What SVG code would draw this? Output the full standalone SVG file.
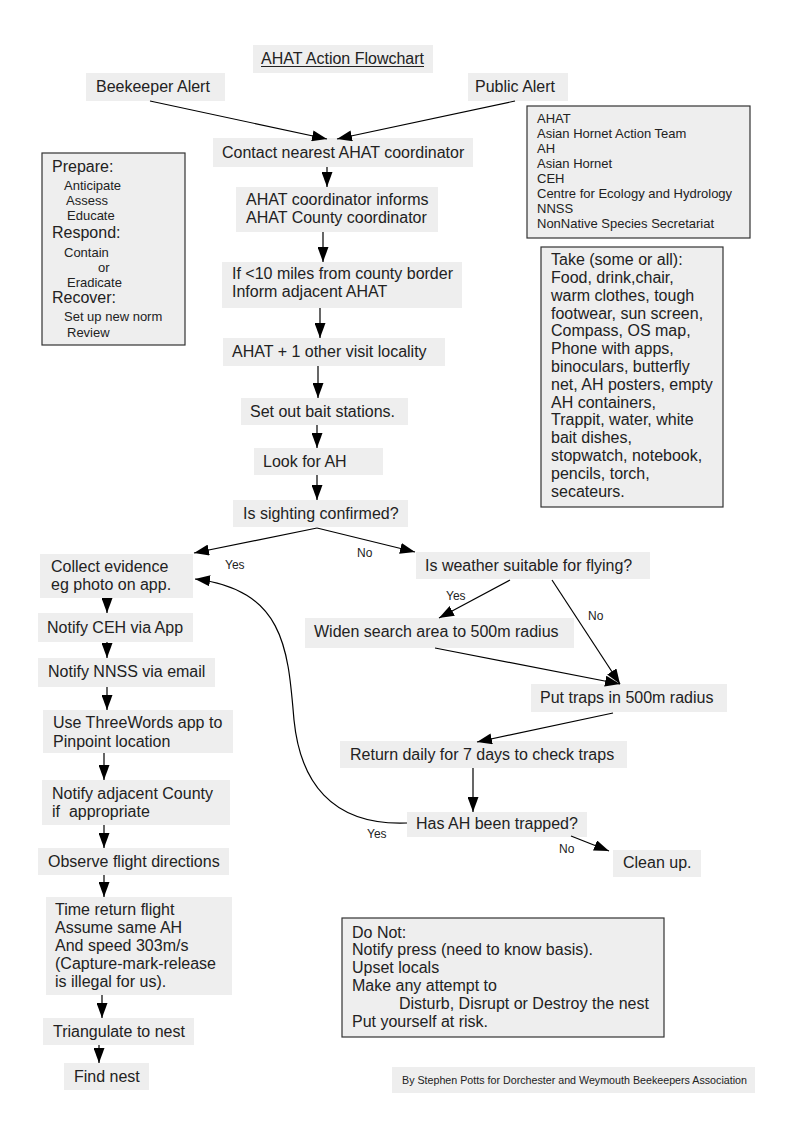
<svg xmlns="http://www.w3.org/2000/svg" width="794" height="1123" viewBox="0 0 794 1123">
<defs>
<marker id="ah" markerUnits="userSpaceOnUse" markerWidth="15" markerHeight="11" refX="15" refY="5.5" orient="auto">
<path d="M0,0 L15,5.5 L0,11 z" fill="#000"/>
</marker>
</defs>
<style>
text{font-family:"Liberation Sans",Arial,sans-serif;fill:#222;}
.t{font-size:16px;}
.s{font-size:13px;}
.h{font-size:16px;}
.l{font-size:12px;}
.f{font-size:10.7px;}
.bx{fill:#eeeeee;}
.bb{fill:#eeeeee;stroke:#333;stroke-width:1.2;}
.c{fill:none;stroke:#000;stroke-width:1.2;marker-end:url(#ah);}
</style>
<rect width="794" height="1123" fill="#fff"/>

<g id="title"><rect class="bx" x="253" y="45" width="180" height="28"/><text class="t" x="261" y="64">AHAT Action Flowchart</text><line x1="261" y1="66.5" x2="424" y2="66.5" stroke="#222" stroke-width="1"/></g>
<g id="beekeeper"><rect class="bx" x="86" y="73" width="139" height="28"/><text class="t" x="96" y="92">Beekeeper Alert</text></g>
<g id="public"><rect class="bx" x="468" y="73" width="100" height="28"/><text class="t" x="475" y="92">Public Alert</text></g>
<g id="contact"><rect class="bx" x="213" y="138" width="260" height="29"/><text class="t" x="222" y="158">Contact nearest AHAT coordinator</text></g>

<g id="glossary"><rect class="bb" x="527" y="106" width="223" height="132"/>
<text class="s" x="537" y="123">AHAT</text>
<text class="s" x="537" y="138">Asian Hornet Action Team</text>
<text class="s" x="537" y="153">AH</text>
<text class="s" x="537" y="168">Asian Hornet</text>
<text class="s" x="537" y="183">CEH</text>
<text class="s" x="537" y="198">Centre for Ecology and Hydrology</text>
<text class="s" x="537" y="213">NNSS</text>
<text class="s" x="537" y="228">NonNative Species Secretariat</text></g>

<g id="take"><rect class="bb" x="541" y="247" width="182" height="260"/>
<text class="t" x="551" y="265">Take (some or all):</text>
<text class="t" x="551" y="283">Food, drink,chair,</text>
<text class="t" x="551" y="301">warm clothes, tough</text>
<text class="t" x="551" y="319">footwear, sun screen,</text>
<text class="t" x="551" y="336">Compass, OS map,</text>
<text class="t" x="551" y="354">Phone with apps,</text>
<text class="t" x="551" y="372">binoculars, butterfly</text>
<text class="t" x="551" y="390">net, AH posters, empty</text>
<text class="t" x="551" y="408">AH containers,</text>
<text class="t" x="551" y="425">Trappit, water, white</text>
<text class="t" x="551" y="443">bait dishes,</text>
<text class="t" x="551" y="461">stopwatch, notebook,</text>
<text class="t" x="551" y="479">pencils, torch,</text>
<text class="t" x="551" y="497">secateurs.</text></g>

<g id="prepare"><rect class="bb" x="42" y="153" width="143" height="192"/>
<text class="h" x="52" y="172">Prepare:</text>
<text class="s" x="64" y="190">Anticipate</text>
<text class="s" x="66" y="205">Assess</text>
<text class="s" x="67" y="220">Educate</text>
<text class="h" x="52" y="238">Respond:</text>
<text class="s" x="64" y="257">Contain</text>
<text class="s" x="98" y="272">or</text>
<text class="s" x="67" y="287">Eradicate</text>
<text class="h" x="52" y="303">Recover:</text>
<text class="s" x="64" y="321">Set up new norm</text>
<text class="s" x="67" y="337">Review</text></g>

<g id="informs"><rect class="bx" x="236" y="187" width="202" height="45"/><text class="t" x="246" y="205">AHAT coordinator informs</text><text class="t" x="246" y="223">AHAT County coordinator</text></g>
<g id="border"><rect class="bx" x="222" y="262" width="240" height="46"/><text class="t" x="232" y="279">If &lt;10 miles from county border</text><text class="t" x="232" y="297">Inform adjacent AHAT</text></g>
<g id="visit"><rect class="bx" x="223" y="338" width="222" height="28"/><text class="t" x="232" y="357">AHAT + 1 other visit locality</text></g>
<g id="bait"><rect class="bx" x="241" y="398" width="167" height="27"/><text class="t" x="250" y="417">Set out bait stations.</text></g>
<g id="look"><rect class="bx" x="254" y="448" width="129" height="27"/><text class="t" x="263" y="467">Look for AH</text></g>
<g id="confirmed"><rect class="bx" x="233" y="500" width="175" height="27"/><text class="t" x="243" y="519">Is sighting confirmed?</text></g>

<g id="collect"><rect class="bx" x="40" y="554" width="153" height="44"/><text class="t" x="51" y="572">Collect evidence</text><text class="t" x="51" y="590">eg photo on app.</text></g>
<g id="ceh"><rect class="bx" x="38" y="613" width="155" height="29"/><text class="t" x="47" y="633">Notify CEH via App</text></g>
<g id="nnss"><rect class="bx" x="38" y="658" width="177" height="29"/><text class="t" x="48" y="677">Notify NNSS via email</text></g>
<g id="threewords"><rect class="bx" x="43" y="710" width="190" height="43"/><text class="t" x="53" y="728">Use ThreeWords app to</text><text class="t" x="53" y="747">Pinpoint location</text></g>
<g id="adjacent"><rect class="bx" x="42" y="780" width="188" height="45"/><text class="t" x="52" y="799">Notify adjacent County</text><text class="t" x="52" y="817">if &#160;appropriate</text></g>
<g id="observe"><rect class="bx" x="38" y="848" width="191" height="27"/><text class="t" x="48" y="867">Observe flight directions</text></g>
<g id="time"><rect class="bx" x="46" y="897" width="186" height="98"/>
<text class="t" x="55" y="915">Time return flight</text>
<text class="t" x="55" y="933">Assume same AH</text>
<text class="t" x="55" y="951">And speed 303m/s</text>
<text class="t" x="55" y="969">(Capture-mark-release</text>
<text class="t" x="55" y="987">is illegal for us).</text></g>
<g id="triangulate"><rect class="bx" x="43" y="1018" width="151" height="27"/><text class="t" x="53" y="1037">Triangulate to nest</text></g>
<g id="findnest"><rect class="bx" x="64" y="1063" width="85" height="27"/><text class="t" x="74" y="1082">Find nest</text></g>

<g id="weather"><rect class="bx" x="416" y="552" width="234" height="27"/><text class="t" x="425" y="571">Is weather suitable for flying?</text></g>
<g id="widen"><rect class="bx" x="305" y="618" width="269" height="30"/><text class="t" x="314" y="637">Widen search area to 500m radius</text></g>
<g id="traps"><rect class="bx" x="531" y="684" width="196" height="28"/><text class="t" x="540" y="703">Put traps in 500m radius</text></g>
<g id="return"><rect class="bx" x="340" y="741" width="287" height="27"/><text class="t" x="350" y="760">Return daily for 7 days to check traps</text></g>
<g id="trapped"><rect class="bx" x="407" y="812" width="180" height="25"/><text class="t" x="416" y="829">Has AH been trapped?</text></g>
<g id="cleanup"><rect class="bx" x="613" y="850" width="88" height="27"/><text class="t" x="623" y="868">Clean up.</text></g>

<g id="donot"><rect class="bb" x="342" y="918" width="322" height="119"/>
<text class="t" x="352" y="938">Do Not:</text>
<text class="t" x="352" y="955">Notify press (need to know basis).</text>
<text class="t" x="352" y="973">Upset locals</text>
<text class="t" x="352" y="991">Make any attempt to</text>
<text class="t" x="399" y="1009">Disturb, Disrupt or Destroy the nest</text>
<text class="t" x="352" y="1027">Put yourself at risk.</text></g>

<g id="footer"><rect class="bx" x="392" y="1067" width="363" height="26"/><text class="f" x="402" y="1084">By Stephen Potts for Dorchester and Weymouth Beekeepers Association</text></g>

<g id="connectors">
<path class="c" d="M150,101 L327,139"/>
<path class="c" d="M515,101 L337,139"/>
<path class="c" d="M327,167 L327,187"/>
<path class="c" d="M323,232 L323,262"/>
<path class="c" d="M320,308 L320,338"/>
<path class="c" d="M318,366 L318,398"/>
<path class="c" d="M317,425 L317,448"/>
<path class="c" d="M317,475 L317,500"/>
<path class="c" d="M317,528 L194,553"/>
<path class="c" d="M317,528 L415,552"/>
<path class="c" d="M107,598 L107,613"/>
<path class="c" d="M107,642 L107,658"/>
<path class="c" d="M107,687 L107,710"/>
<path class="c" d="M104,753 L104,780"/>
<path class="c" d="M104,825 L104,848"/>
<path class="c" d="M104,875 L104,897"/>
<path class="c" d="M102,995 L102,1018"/>
<path class="c" d="M99,1045 L99,1063"/>
<path class="c" d="M510,580 L439,618"/>
<path class="c" d="M552,580 L620,684"/>
<path class="c" d="M435,648 L620,684"/>
<path class="c" d="M613,713 L477,742"/>
<path class="c" d="M473,768 L473,812"/>
<path class="c" d="M571,836 L609,851"/>
<path class="c" d="M407,823 C330,826 300,780 294,720 C288,650 285,590 195,579"/>
</g>
<g id="labels">
<text class="l" x="225" y="569">Yes</text>
<text class="l" x="357" y="557">No</text>
<text class="l" x="446" y="600">Yes</text>
<text class="l" x="588" y="620">No</text>
<text class="l" x="367" y="838">Yes</text>
<text class="l" x="559" y="853">No</text>
</g>
</svg>
